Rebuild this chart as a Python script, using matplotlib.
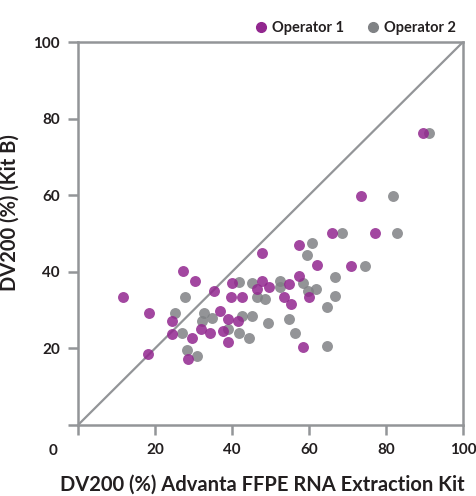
import matplotlib
matplotlib.use("Agg")
import matplotlib.pyplot as plt
from matplotlib.lines import Line2D

plt.rcParams['font.family'] = ['Lato', 'DejaVu Sans']
plt.rcParams['font.weight'] = 'bold'

# operator 1 (purple)
op1_x = [11.8, 18.5, 18.1, 24.3, 24.3, 27.4, 30.3, 28.7, 29.5, 32.0, 34.2, 35.3,
         36.8, 37.6, 38.9, 38.9, 39.7, 40.1, 41.5, 42.5, 46.4, 47.7, 47.7, 49.7,
         53.5, 54.7, 55.4, 57.4, 57.4, 58.4, 60.0, 62.0, 65.9, 71.0, 73.6, 77.1, 89.7]
op1_y = [33.5, 29.2, 18.5, 27.1, 23.8, 40.2, 37.7, 17.2, 22.8, 25.1, 23.9, 34.9,
         29.8, 24.6, 27.6, 21.6, 33.5, 37.0, 27.1, 33.5, 35.5, 37.7, 45.0, 36.1,
         33.5, 36.9, 31.6, 39.0, 46.9, 20.3, 33.5, 41.8, 50.2, 41.6, 59.9, 50.1, 76.3]

# operator 2 (grey)
op2_x = [25.1, 27.7, 27.0, 28.2, 30.8, 32.8, 32.2, 34.7, 39.0, 41.9, 41.9, 42.5,
         44.5, 45.1, 45.1, 46.4, 48.5, 49.3, 52.6, 52.6, 54.7, 56.4, 58.4, 59.7,
         59.6, 60.7, 61.8, 64.6, 64.6, 66.7, 66.7, 68.6, 74.5, 81.7, 82.9, 91.3]
op2_y = [29.3, 33.5, 24.0, 19.5, 18.0, 29.3, 27.2, 27.9, 25.2, 37.4, 23.9, 28.5,
         22.8, 37.0, 28.5, 33.5, 32.9, 26.6, 37.6, 36.1, 27.8, 23.9, 37.0, 35.1,
         44.3, 47.4, 35.6, 30.9, 20.6, 38.7, 33.6, 50.2, 41.5, 59.9, 50.2, 76.3]

ticks = [0, 20, 40, 60, 80, 100]
purple = '#92278f'
grey = '#808285'
axis_grey = '#939598'
text_col = '#231f20'

fig = plt.figure(figsize=(4.77, 4.96), dpi=100)
ax = fig.add_axes([0.1635, 0.1431, 0.8071, 0.7722])

ax.plot([0, 100], [0, 100], color=axis_grey, lw=1.6, zorder=1)
ax.scatter(op1_x, op1_y, s=62, color=purple, alpha=0.85, linewidths=0, zorder=3)
ax.scatter(op2_x, op2_y, s=62, color=grey, alpha=0.85, linewidths=0, zorder=2)

ax.set_xlim(0, 100)
ax.set_ylim(0, 100)
ax.set_xticks(ticks)
ax.set_yticks(ticks)
ax.set_xticklabels([''] + [str(t) for t in ticks[1:]])
ax.set_yticklabels([''] + [str(t) for t in ticks[1:]])
ax.annotate('0', xy=(0, 0), xytext=(-18, -19), textcoords='offset points',
            ha='center', va='center', fontsize=11, fontweight='bold', color=text_col)

for sp in ax.spines.values():
    sp.set_color(axis_grey)
    sp.set_linewidth(1.8)
ax.tick_params(direction='out', length=7, width=1.8, color=axis_grey,
               labelsize=11, labelcolor=text_col, pad=6)

ax.set_xlabel('DV200 (%) Advanta FFPE RNA Extraction Kit', fontsize=14.5,
              fontweight='bold', color=text_col)
ax.xaxis.set_label_coords(0.478, -0.13)
ax.set_ylabel('DV200 (%) (Kit B)', fontsize=14.5, fontweight='bold',
              color=text_col)
ax.yaxis.set_label_coords(-0.151, 0.556)

handles = [Line2D([], [], marker='o', ls='', color=purple, markersize=7),
           Line2D([], [], marker='o', ls='', color=grey, markersize=7)]
ax.legend(handles, ['Operator 1', 'Operator 2'], ncol=2, frameon=False,
          loc='lower right', bbox_to_anchor=(1.0, 1.0), handlelength=0.8,
          handletextpad=0.35, columnspacing=1.6, borderpad=0.2,
          prop={'size': 10.5, 'weight': 'bold'}, labelcolor=text_col,
          borderaxespad=0.3)

fig.savefig('out.png', dpi=100)
